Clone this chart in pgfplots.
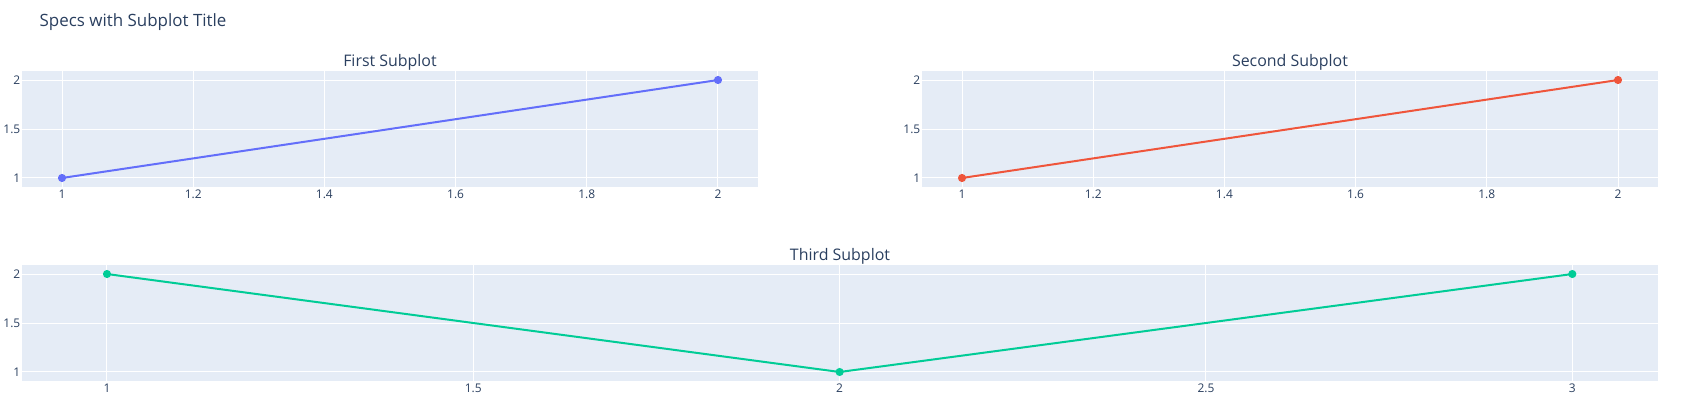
\documentclass[border=0pt]{standalone}
\usepackage{fontspec}
\setmainfont{Open Sans}
\usepackage{pgfplots}
\pgfplotsset{compat=1.18}
\definecolor{bgc}{HTML}{E5ECF6}
\definecolor{txt}{HTML}{2A3F5F}
\definecolor{cA}{HTML}{636EFA}
\definecolor{cB}{HTML}{EF553B}
\definecolor{cC}{HTML}{00CC96}
\pgfplotsset{
  plotlystyle/.style={
    scale only axis,
    height=116bp,
    axis background/.style={fill=bgc},
    axis line style={draw=none},
    major tick length=0pt,
    grid=major,
    major grid style={white, line width=1bp},
    ymin=0.908, ymax=2.092,
    ytick={1,1.5,2},
    yticklabels={1,1.5,2},
    /pgf/number format/assume math mode=true,
    ticklabel style={font=\fontsize{12}{14}\selectfont, text=txt},
    yticklabel style={inner sep=0pt, anchor=east, xshift=-1.5bp},
    xticklabel style={inner sep=0pt, anchor=north, yshift=-3bp},
    clip=false,
  },
}
\begin{document}
\begin{tikzpicture}
\path[use as bounding box] (0,0) rectangle (1687bp,-407bp);
\begin{axis}[plotlystyle, at={(22bp,-187bp)}, anchor=south west, width=736bp,
  xmin=0.939, xmax=2.061, xtick={1,1.2,1.4,1.6,1.8,2},
  xticklabels={1,1.2,1.4,1.6,1.8,2}]
\addplot[cA, line width=2bp, mark=*, mark size=3bp] coordinates {(1,1) (2,2)};
\end{axis}
\begin{axis}[plotlystyle, at={(922bp,-187bp)}, anchor=south west, width=736bp,
  xmin=0.939, xmax=2.061, xtick={1,1.2,1.4,1.6,1.8,2},
  xticklabels={1,1.2,1.4,1.6,1.8,2}]
\addplot[cB, line width=2bp, mark=*, mark size=3bp] coordinates {(1,1) (2,2)};
\end{axis}
\begin{axis}[plotlystyle, at={(22bp,-381bp)}, anchor=south west, width=1636bp,
  xmin=0.884, xmax=3.117, xtick={1,1.5,2,2.5,3},
  xticklabels={1,1.5,2,2.5,3}]
\addplot[cC, line width=2bp, mark=*, mark size=3bp] coordinates {(1,2) (2,1) (3,2)};
\end{axis}
\node[anchor=base west, inner sep=0pt, text=txt, font=\fontsize{17}{20}\selectfont] at (39.5bp,-26bp) {Specs with Subplot Title};
\node[anchor=base, inner sep=0pt, text=txt, font=\fontsize{16}{19}\selectfont] at (390bp,-66bp) {First Subplot};
\node[anchor=base, inner sep=0pt, text=txt, font=\fontsize{16}{19}\selectfont] at (1290bp,-66bp) {Second Subplot};
\node[anchor=base, inner sep=0pt, text=txt, font=\fontsize{16}{19}\selectfont] at (840bp,-260bp) {Third Subplot};
\end{tikzpicture}
\end{document}
